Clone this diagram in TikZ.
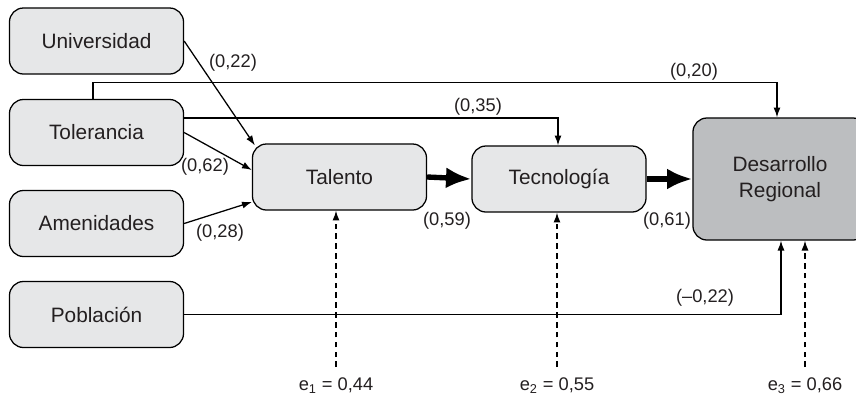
\documentclass[tikz,border=0pt]{standalone}
\usepackage{fontspec}
\setmainfont{Liberation Sans}
\usetikzlibrary{arrows.meta}
\tikzset{>={Latex[length=7pt,width=5pt]}}
\definecolor{boxgray}{HTML}{E6E7E8}
\definecolor{darkgray}{HTML}{BCBEC0}
\definecolor{inkgray}{HTML}{231F20}

\begin{document}
\begin{tikzpicture}[x=0.025cm,y=-0.025cm,
		box/.style={draw,rounded corners=0.35cm,fill=boxgray,minimum width=4.35cm,minimum height=1.65cm,inner sep=0pt,align=center,font=\fontsize{14.8}{18.5}\selectfont,text=inkgray,line width=0.9pt},
		lbl/.style={font=\fontsize{13}{15}\selectfont,text=inkgray,inner sep=0pt},
		thick arrow/.style={line width=3.8pt,-{Latex[length=18pt,width=15pt]}},
		every path/.append style={line width=0.9pt}]
			\useasboundingbox (0,0) rectangle (856,404);
			\foreach \name/\word/\y in {univ/Universidad/41,tol/Tolerancia/132.5,amen/Amenidades/223.5,pob/Población/314.5}
				{
					\node[box] (\name) at (96.5,\y) {\word};
				}
			\node[box] (tal) at (339.5,177) {Talento};
			\node[box] (tec) at (559,179) {Tecnología};
			\node[box,fill=darkgray,minimum height=3.05cm] (des) at (780,179) {Desarrollo\\Regional};
%-----Arrows into the boxes-----
			\draw[->] (univ.east) -- ([shift={(3,2)}]tal.north west);
			\draw[->] (tol.east) -- ([shift={(0,-7)}]tal.west);
			\draw[->] (amen.east) -- ([shift={(0,25)}]tal.west);
			\draw[->] ([shift={(0,-14.5)}]tol.east) -| ([shift={(-1,0)}]tec.north);
			\draw[->] ([shift={(-3.5,0)}]tol.north) -- ++(0,-16) -| ([shift={(-3,0)}]des.north);
			\draw[->] (pob.east) -| ([shift={(1,0)}]des.south);
			\draw[thick arrow] (tal.east) -- (tec.west);
			\draw[thick arrow] (tec.east) -- (des.west);
%-----Error terms-----
			\foreach \k/\x/\val in {1/336/{0,44},2/557/{0,55},3/805/{0,66}}
				{
					\coordinate (c\k) at (\x,367);
					\node[lbl] (e\k) at (\x,386) {e\textsubscript{\k} = \val};
				}
			\draw[->,dash pattern=on 4pt off 3pt] (c1) -- (c1 |- tal.south);
			\draw[->,dash pattern=on 4pt off 3pt] (c2) -- (c2 |- tec.south);
			\draw[->,dash pattern=on 4pt off 3pt] (c3) -- (c3 |- des.south);
%-----Coefficients-----
			\node[lbl] (l1) at (233,63) {(0,22)};
			\node[lbl] (l2) at (205,167) {(0,62)};
			\node[lbl] (l3) at (220,233) {(0,28)};
			\node[lbl] (l4) at (478,107) {(0,35)};
			\node[lbl] (l5) at (694,72) {(0,20)};
			\node[lbl] (l6) at (447,221) {(0,59)};
			\node[lbl] (l7) at (667,221) {(0,61)};
			\node[lbl] (l8) at (705,298) {(--0,22)};
		\end{tikzpicture}
\end{document}
